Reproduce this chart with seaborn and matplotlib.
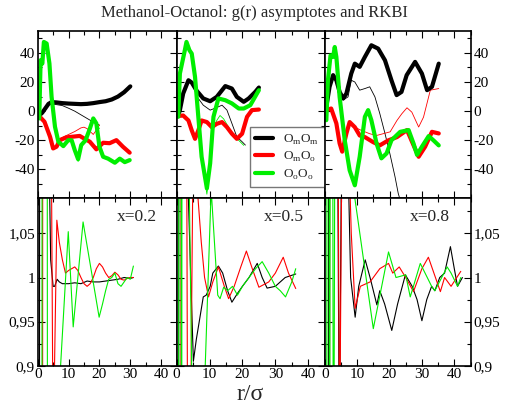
import matplotlib
matplotlib.use("Agg")
import matplotlib.pyplot as plt
import seaborn as sns
from matplotlib.ticker import MultipleLocator, FuncFormatter
from matplotlib.lines import Line2D

# ---------------- RKBI (top row), thick = RKBI, thin = second estimate ----------------
# x = 0.2
rk02_mm_r = [0.5, 1.5, 2.5, 3.5, 4.5, 6, 8, 10, 12, 14, 16, 18, 20, 22, 24, 26, 28, 30]
rk02_mm = [-3, -1, 2, 5, 6.2, 6, 5.5, 5.2, 5, 4.8, 5, 5.5, 6.2, 6.8, 8, 10, 13, 17]
rk02_mo_r = [0.7, 2.2, 4, 5, 6.1, 7.2, 9.3, 13.6, 16.9, 19, 21.2, 23.3, 25.5, 27.6, 29.8]
rk02_mo = [-3.9, -7.3, -17.6, -25.6, -24.4, -19.9, -18, -17, -21, -26.2, -21.7, -22, -19.9, -24.4, -28.5]
rk02_oo_r = [0.5, 0.95, 1.5, 2, 2.9, 3.8, 4.5, 5.6, 6.7, 8.3, 9.9, 11, 12, 13.1, 14.1, 15.5, 16.9, 18,
             19, 20, 21.2, 22.8, 25, 26.6, 28.2, 29.8]
rk02_oo = [-5, 35, 32.6, 47.5, 46.4, 32.7, 9.8, -10.7, -21, -24, -19.9, -20, -26.7, -33, -23.3, -20, -12, -5,
           -8.4, -24.4, -31.3, -32.6, -35.4, -32.6, -35, -33.6]
rk02_mm_t_r = [4.5, 6, 8, 10, 12, 14, 16, 18, 20]
rk02_mm_t = [4.8, 4.5, 3.8, 2, 0, -2.5, -5, -7.5, -9.6]
rk02_mo_t_r = [7, 8, 10, 12, 14, 15, 16, 18, 19, 20]
rk02_mo_t = [-19, -18, -16, -14, -11.5, -11, -12, -16, -13, -9.6]
rk02_oo_t_r = [8.3, 9.9, 11, 12, 13.1, 14.1, 15.5, 16.9, 18, 19, 20]
rk02_oo_t = [-24, -19.9, -20, -27, -34.5, -23.3, -20, -12, -5.5, -8.4, -12]

# x = 0.5
rk05_mm_r = [0.5, 1, 2, 3.6, 4.6, 6.1, 8.1, 10.2, 12.2, 14.8, 16.8, 18.3, 20.4, 21.9, 23.9, 25]
rk05_mm = [-3, 0.7, 12.1, 21.2, 19.6, 14, 8.7, 6.8, 9.8, 17.2, 15.5, 9.8, 6.4, 8.7, 13.2, 16.2]
rk05_mo_r = [0.5, 2, 3.6, 4.6, 5.6, 6.6, 7.6, 9.2, 10.7, 12.2, 13.8, 15.3, 16.8, 18.3, 19.9, 21.4, 22.9, 25]
rk05_mo = [-3.3, -3, -6.4, -13.2, -19, -13.2, -6.4, -7.5, -11, -8.7, -7.5, -11, -15.5, -19, -15.5, -3.9, 0.7, 1.1]
rk05_oo_r = [0.5, 1, 2.5, 3, 3.9, 4.6, 5.6, 6.6, 7.6, 9.2, 10.2, 11.2, 12.7, 14.8, 16.8, 18.9, 20.4, 22.4, 25]
rk05_oo = [-3.9, 25.8, 41.8, 47.5, 41.8, 39.5, 23.5, -3.9, -31.3, -53, -35.8, -3.9, 8.7, 7.5, 5.3, 1.8, 1.8, 4.1, 14.4]
rk05_mm_t_r = [6.6, 8.1, 10.2, 12.2, 13.8, 15.3, 16.8, 18.3, 19.9, 20.9]
rk05_mm_t = [8.7, 4.1, 0.7, 2.5, 4.1, 0.7, -8.4, -17.6, -21, -23.3]
rk05_oo_t_r = [7.6, 9.2, 10.2, 11.2, 12.2, 13.2, 14.3, 15.8, 17.3, 18.9, 20.4]
rk05_oo_t = [-33, -57, -38, -12, -6.4, -3, -5.3, -11, -16.7, -20.1, -23.5]

# x = 0.8
rk08_mm_r = [0.5, 1.5, 2.6, 3.6, 4.6, 5.7, 6.7, 8.2, 9.3, 10.8, 12.4, 14.4, 16.5, 18.6, 20.6, 22.2, 23.7,
             25.3, 27.9, 30, 31.6, 33.1, 35.2]
rk08_mm = [3, 16.7, 24.7, 21.2, 13.2, 8.7, 12.1, 25.8, 32.6, 30.4, 37.2, 45.2, 42.9, 34.9, 21.2, 11, 13.2,
           24.7, 33.8, 25.8, 14.4, 16.7, 32.6]
rk08_mo_r = [0.5, 2, 3.6, 4.6, 5.4, 6.7, 7.7, 9.3, 10.8, 12.4, 14.9, 17, 19.6, 22.3, 25.4, 27.4, 29, 31,
             33.1, 35.2]
rk08_mo = [0.7, 1.8, -8.4, -22.1, -27.8, -15.3, -7.5, -11, -16.7, -17.8, -21.2, -23.5, -20.1, -17.8, -13,
           -23.3, -31.3, -24.4, -14.2, -15.3]
rk08_oo_r = [0.5, 1, 1.8, 2.6, 3.1, 3.6, 4.6, 6.2, 7.7, 9.3, 10.8, 12.4, 13.4, 14.4, 16, 17.5, 19.1, 20.6,
             23.3, 25.9, 27.4, 28.5, 30, 32.1, 33.6, 35.2]
rk08_oo = [-6.2, 21.2, 38.3, 37.2, 44, 37.2, 9.8, -20.1, -40.6, -50.9, -31.3, -3.9, 0.7, -6.2, -22.1, -32.4,
           -29, -20, -14.2, -13, -22.1, -30, -24.4, -17.1, -20.1, -23.5]
rk08_mm_t_r = [5.7, 7.2, 8.2, 9.3, 10.8, 12.4, 13.9, 15.5, 17, 18.6, 20.1, 21.7, 22.7, 23.3, 24]
rk08_mm_t = [7.6, 9.8, 21.2, 20, 14.4, 15.5, 16.7, 9.8, -1.6, -15.3, -29, -45, -56.5, -61, -70]
rk08_mo_t_r = [8.2, 9.3, 11.3, 13.9, 16, 20.2, 22.3, 23.8, 25.4, 26.9, 29, 30.5, 32.6, 35.2]
rk08_mo_t = [-9, -11, -13.2, -15.5, -16.7, -14.2, -6.4, -1.8, 2.3, -0.7, -10.9, -4.1, 14.4, 15.5]

# ---------------- g(r) asymptotes (bottom row) ----------------
# x = 0.2
g02_mm_r = [0.5, 0.8, 1.2, 2.2, 3.0, 4.2, 5.0, 5.5, 6.3, 7, 8, 10, 12, 14, 16, 18, 20, 22, 24, 26, 28, 30, 31]
g02_mm = [0, 3.0, 2.0, 1.8, 1.3, 1.02, 0.99, 0.99, 0.998, 0.995, 0.993, 0.993, 0.994, 0.993, 0.996, 0.995,
          0.995, 0.996, 0.997, 0.998, 1.0, 0.999, 1.0]
g02_mo_r = [0.5, 1.5, 1.8, 3.0, 5.0, 6.2, 7, 8, 9, 10, 11, 12, 13, 14, 15, 16, 17, 18, 19, 20, 21, 22, 23,
            24, 25, 26, 27, 28, 29, 30, 31]
g02_mo = [0, 0, 3, 2, 0.8, 1.065, 1.04, 1.02, 1.005, 1.008, 1.01, 1.012, 1.008, 1.0, 0.993, 0.99, 0.993,
          1.0, 1.01, 1.016, 1.012, 1.005, 1.0, 1.002, 1.006, 1.003, 0.998, 0.997, 0.999, 1.0, 1.0]
g02_oo_r = [0.5, 1.3, 1.7, 2.8, 3.2, 5, 6.6, 9.9, 11.5, 14.7, 19.9, 21, 22, 23, 24, 25, 26, 27, 28, 29, 30, 31]
g02_oo = [0, 0, 4, 3, 0.5, 0.3, 0.85, 1.052, 0.944, 1.063, 0.955, 0.97, 0.985, 0.998, 1.0, 1.005, 0.993,
          0.99, 0.995, 1.0, 0.998, 1.013]

# x = 0.5
g05_mm_r = [0.5, 0.9, 1.4, 2.0, 2.6, 3.5, 4.3, 5.1, 6.0, 7.1, 8.1, 9.0, 10.2, 11.0, 12.7, 14.0, 15.5, 16.8,
            18.5, 20.0, 22.0, 24.5, 26.0, 27.5, 30.0, 33.0, 36.2]
g05_mm = [0, 2.8, 1.6, 1.8, 1.3, 1.1, 1.0, 0.905, 0.93, 0.955, 0.978, 0.98, 0.99, 1.005, 1.013, 1.005, 0.985,
          0.972, 0.982, 0.99, 1.0, 1.016, 1.0, 0.988, 0.99, 1.0, 1.004]
g05_mo_r = [0.5, 1.2, 1.6, 2.4, 3.5, 4.3, 5.6, 6.5, 7.5, 8.5, 9.7, 11, 12.7, 14.5, 15.8, 17.5, 19.5, 21.2,
            23, 25, 28, 30, 32.4, 34, 36.2]
g05_mo = [0, 0, 3.2, 2.0, 0.6, 0.85, 1.4, 1.09, 1.04, 1.0, 0.978, 0.995, 1.012, 0.99, 0.976, 0.99, 1.012,
          1.03, 1.01, 0.989, 0.995, 1.005, 1.023, 1.005, 0.9875]
g05_oo_r = [0.5, 1.0, 1.5, 2.0, 2.5, 3.5, 6, 8.7, 10.5, 12.5, 13.2, 14.3, 15.5, 17, 18.5, 20, 22, 24, 26,
            28, 30, 31.5, 33.1, 35, 36.2]
g05_oo = [0, 3, 0.5, 3, 1.5, 1.2, 0.5, 0.9, 1.1, 0.98, 0.976, 0.989, 0.985, 0.99, 0.98, 0.99, 1.0, 1.01,
          1.018, 1.005, 0.99, 0.985, 0.978, 0.995, 1.01]

# x = 0.8
g08_mm_r = [0.5, 1.0, 1.5, 2.5, 3.5, 4.5, 5.5, 6.8, 8.0, 9.4, 10.5, 12.5, 14, 16.1, 17, 18.5, 20.7, 22.5,
            24.9, 27, 28.5, 30, 31.5, 33, 34, 35.5, 37, 38.8, 40, 41, 42.5]
g08_mm = [0, 0, 3, 2, 1.5, 0.8, 1.3, 1.2, 1.0, 0.955, 0.99, 1.02, 1.0, 0.969, 0.985, 0.97, 0.94, 0.97,
          1.003, 0.99, 0.975, 0.951, 0.975, 0.99, 0.985, 1.0, 1.005, 1.035, 1.01, 0.99, 1.0]
g08_mo_r = [0.5, 1.4, 1.8, 3.0, 4.6, 6.0, 7.0, 8.2, 9.4, 11, 14, 17, 19.7, 21, 23, 25, 27.4, 30, 32, 35.7,
            37, 39, 42]
g08_mo = [0, 0, 3, 2, 0.8, 1.5, 1.2, 1.05, 0.965, 0.99, 0.995, 1.01, 1.016, 1.005, 1.012, 1.0, 0.984,
          1.01, 1.023, 0.984, 1.0, 0.99, 1.007]
g08_oo_r = [0.5, 1.0, 1.5, 2.0, 2.7, 3.6, 5.5, 9.3, 15, 19.7, 22, 25, 26.4, 29.5, 33, 34, 37.8, 39, 41, 42]
g08_oo = [0, 3, 0.5, 2.5, 0.6, 1.8, 1.5, 1.09, 0.942, 1.029, 1.0, 1.003, 0.978, 1.016, 0.99, 0.985, 1.012,
          1.005, 0.99, 1.0]

labels = ["O$_\\mathregular{m}$O$_\\mathregular{m}$", "O$_\\mathregular{m}$O$_\\mathregular{o}$",
          "O$_\\mathregular{o}$O$_\\mathregular{o}$"]
colors = ["black", "red", "#00ee00"]
panel_titles = ["x=0.2", "x=0.5", "x=0.8"]
xticks = [0, 10, 20, 30, 40]

sns.set_theme(style="white")
plt.rcParams["font.family"] = ["Liberation Serif", "DejaVu Serif"]
plt.rcParams["mathtext.fontset"] = "custom"
plt.rcParams["mathtext.rm"] = "Liberation Serif"
plt.rcParams["axes.unicode_minus"] = False

fig = plt.figure(figsize=(5.09, 4.08), dpi=100)
W, H = 509.0, 408.0
lefts = [37.7, 176.6, 324.7]
rights = [176.6, 324.7, 470.5]
rows = [(31.0, 197.7), (197.7, 365.7)]

top_thick = [
    [(rk02_mm_r, rk02_mm), (rk02_mo_r, rk02_mo), (rk02_oo_r, rk02_oo)],
    [(rk05_mm_r, rk05_mm), (rk05_mo_r, rk05_mo), (rk05_oo_r, rk05_oo)],
    [(rk08_mm_r, rk08_mm), (rk08_mo_r, rk08_mo), (rk08_oo_r, rk08_oo)],
]
top_thin = [
    [(rk02_mm_t_r, rk02_mm_t, 0), (rk02_mo_t_r, rk02_mo_t, 1), (rk02_oo_t_r, rk02_oo_t, 2)],
    [(rk05_mm_t_r, rk05_mm_t, 0), (rk05_oo_t_r, rk05_oo_t, 2)],
    [(rk08_mm_t_r, rk08_mm_t, 0), (rk08_mo_t_r, rk08_mo_t, 1)],
]
bottom = [
    [(g02_mm_r, g02_mm), (g02_mo_r, g02_mo), (g02_oo_r, g02_oo)],
    [(g05_mm_r, g05_mm), (g05_mo_r, g05_mo), (g05_oo_r, g05_oo)],
    [(g08_mm_r, g08_mm), (g08_mo_r, g08_mo), (g08_oo_r, g08_oo)],
]


def comma(v, pos):
    s = "%g" % v
    return s.replace(".", ",")


def style_axis(ax, col, row):
    ax.set_xlim(0, 45)
    ax.xaxis.set_major_locator(MultipleLocator(10))
    ax.xaxis.set_minor_locator(MultipleLocator(5))
    if row == 0:
        ax.set_ylim(-59.4, 55)
        ax.yaxis.set_major_locator(MultipleLocator(20))
        ax.yaxis.set_minor_locator(MultipleLocator(10))
    else:
        ax.set_ylim(0.9, 1.0905)
        ax.yaxis.set_major_locator(MultipleLocator(0.05))
        ax.yaxis.set_minor_locator(MultipleLocator(0.025))
        ax.yaxis.set_major_formatter(FuncFormatter(comma))
    ax.tick_params(which="both", direction="in", top=True, right=True, bottom=True, left=True,
                   labelsize=11, colors="black", pad=2)
    ax.tick_params(which="major", length=5, width=0.8)
    ax.tick_params(which="minor", length=3, width=0.8)
    ax.tick_params(labelleft=(col == 0), labelright=(col == 2), labelbottom=(row == 1))
    for s in ax.spines.values():
        s.set_color("black")
        s.set_linewidth(1.2)
    ax.set_xlabel("")
    ax.set_ylabel("")


for col in range(3):
    # top row: RKBI
    y0, y1 = rows[0]
    ax = fig.add_axes([lefts[col] / W, 1 - y1 / H, (rights[col] - lefts[col]) / W, (y1 - y0) / H])
    for rr, vv, ci in top_thin[col]:
        sns.lineplot(x=rr, y=vv, color=colors[ci], lw=0.6, sort=False, estimator=None, ax=ax)
    for ci, (rr, vv) in enumerate(top_thick[col]):
        sns.lineplot(x=rr, y=vv, color=colors[ci], lw=3.0, sort=False, estimator=None, ax=ax)
    style_axis(ax, col, 0)
    if col == 1:
        handles = [Line2D([], [], color=c, lw=3.0) for c in colors]
        leg = ax.legend(handles, labels, loc="lower right", bbox_to_anchor=(1.0, 0.065), borderaxespad=0,
                        fontsize=9.5, frameon=True, fancybox=False, framealpha=1, edgecolor="#777777",
                        handlelength=1.35, handletextpad=0.8, labelspacing=0.25, borderpad=0.4)
        leg.get_frame().set_linewidth(1.0)

    # bottom row: g(r) asymptotes
    y0, y1 = rows[1]
    ax = fig.add_axes([lefts[col] / W, 1 - y1 / H, (rights[col] - lefts[col]) / W, (y1 - y0) / H])
    for ci, (rr, vv) in enumerate(bottom[col]):
        sns.lineplot(x=rr, y=vv, color=colors[ci], lw=0.8, sort=False, estimator=None, ax=ax)
    style_axis(ax, col, 1)
    ax.set_xticks(xticks)
    ax.text(0.86, 0.93, panel_titles[col], transform=ax.transAxes, ha="right", va="top", fontsize=12.5)

fig.text(0.5, 1 - 13 / H, "Methanol-Octanol: g(r) asymptotes and RKBI", ha="center", va="center", fontsize=12)
fig.text(250 / W, 1 - 395 / H, "r/σ", ha="center", va="center", fontsize=17)

fig.savefig("out.png", dpi=100, facecolor="white")
